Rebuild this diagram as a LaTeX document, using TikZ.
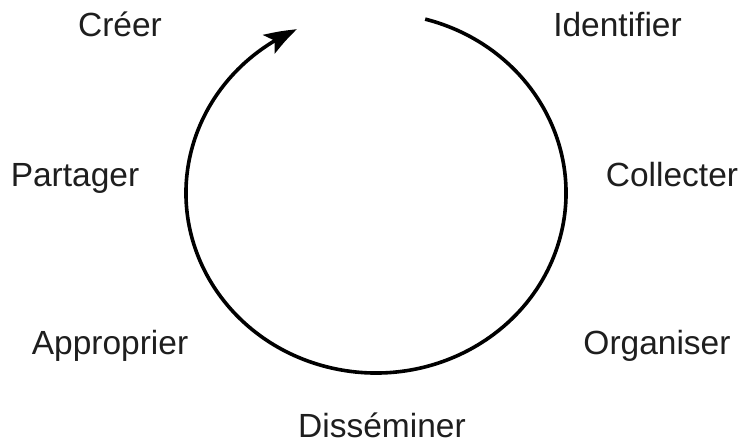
\documentclass[tikz,border=0pt]{standalone}
\usepackage{fontspec}
\setmainfont{Liberation Sans}
\usetikzlibrary{arrows.meta, bending}
\definecolor{texte}{RGB}{30,30,30}

\begin{document}
\begin{tikzpicture}[x=1pt, y=1pt,
    etape/.style={anchor=base, inner sep=0pt, text=texte, font=\fontsize{33.5}{40}\selectfont},
    cycle/.style={line width=3.6pt, -{Stealth[length=32pt, width=22pt, inset=7pt, bend]}}]
        \useasboundingbox[fill=white] (0,0) rectangle (745,444);
        % les etapes autour du cycle
        \foreach \nm/\x/\y/\t in {
          creer/120/407/{Créer},
          identifier/617.5/407/{Identifier},
          partager/75/257/{Partager},
          collecter/672/257/{Collecter},
          approprier/110/89/{Approprier},
          organiser/657/89/{Organiser},
          disseminer/382/6/{Disséminer}
        } {
          \node[etape] (\nm) at (\x, \y) {\t};
        }
        % le cycle
        \coordinate (centre) at (376, 251);
        \draw[cycle] (centre) ++(75:190 and 180)
          arc[start angle=75, end angle=-245.4, x radius=190, y radius=180];
      \end{tikzpicture}
\end{document}
